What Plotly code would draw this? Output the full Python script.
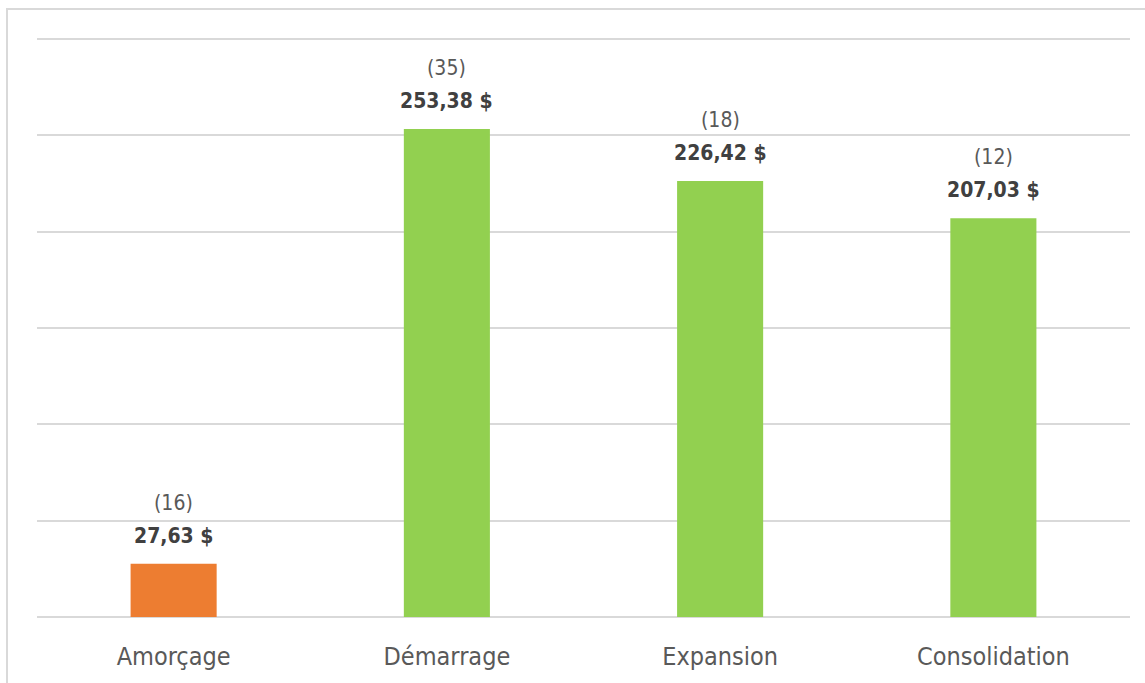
import plotly.graph_objects as go

categories = ["Amorçage", "Démarrage", "Expansion", "Consolidation"]
values = [27.63, 253.38, 226.42, 207.03]
counts = [16, 35, 18, 12]
colors = ["#ED7D31", "#92D050", "#92D050", "#92D050"]
value_labels = ["27,63 $", "253,38 $", "226,42 $", "207,03 $"]

FONT = "DejaVu Sans Condensed, Liberation Sans Narrow, Arial Narrow, sans-serif"

W, H = 1145, 683
ML, MR, MT, MB = 37, 15, 38, 66

fig = go.Figure(go.Bar(x=categories, y=values, marker=dict(color=colors, line=dict(width=0)),
                       width=0.315, hoverinfo="skip"))

annotations = []
for c, v, n, lab in zip(categories, values, counts, value_labels):
    annotations.append(dict(x=c, y=v, xref="x", yref="y", text=f"<b>{lab}</b>", showarrow=False,
                            yanchor="middle", yshift=28, font=dict(family=FONT, size=21, color="#404040")))
    annotations.append(dict(x=c, y=v, xref="x", yref="y", text=f"({n})", showarrow=False,
                            yanchor="middle", yshift=61, font=dict(family=FONT, size=21, color="#595959")))

pw = W - ML - MR
ph = H - MT - MB
x0 = (7 - ML) / pw
y1 = 1 + (MT - 9) / ph
fig.add_shape(type="rect", xref="paper", yref="paper", x0=x0, x1=1 + (MR + 20) / pw,
              y0=-(MB + 20) / ph, y1=y1, line=dict(color="#D9D9D9", width=2), layer="below")

fig.update_layout(
    width=W, height=H, margin=dict(l=ML, r=MR, t=MT, b=MB),
    paper_bgcolor="white", plot_bgcolor="white", showlegend=False,
    bargap=0.685, annotations=annotations,
    font=dict(family=FONT, color="#595959"),
    xaxis=dict(showgrid=False, showline=False, ticks="", tickfont=dict(size=25, color="#595959"),
               ticklabelstandoff=22),
    yaxis=dict(range=[0, 300.6], tickvals=[0, 50, 100, 150, 200, 250, 300], showticklabels=False,
               showgrid=True, gridcolor="#D9D9D9",
               gridwidth=1.5, zeroline=True, zerolinecolor="#D9D9D9", zerolinewidth=1.5, showline=False),
)

fig.write_html("out.html")
